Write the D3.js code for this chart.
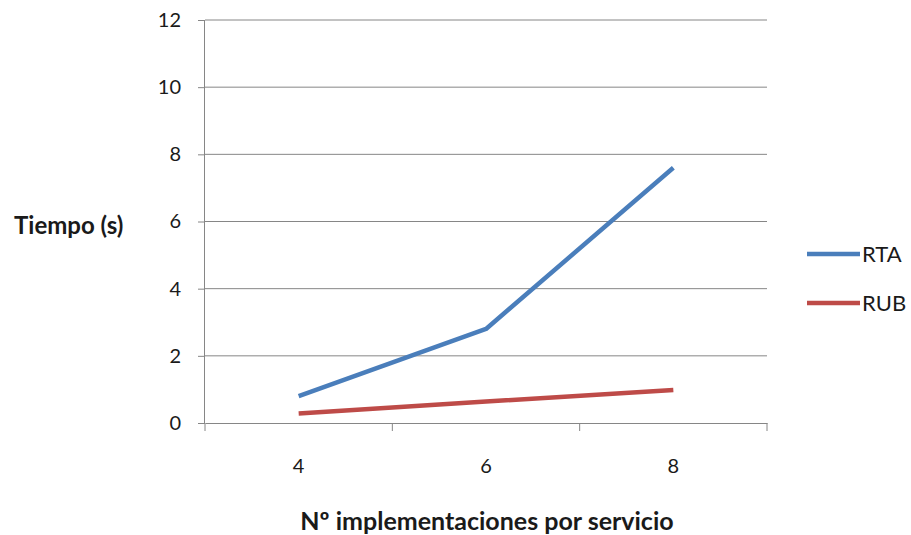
<!DOCTYPE html>
<html>
<head>
<meta charset="utf-8">
<script src="https://cdn.jsdelivr.net/npm/d3@7"></script>
<style>
  body { margin: 0; background: #fff; }
  text { font-family: Lato, "Open Sans", sans-serif; fill: #1a1a1a; }
</style>
</head>
<body>
<svg id="chart" width="911" height="535"></svg>
<script>
const categories = ['4', '6', '8'];
const seriesNames = ['RTA', 'RUB'];
const rtaValues = [0.8, 2.8, 7.6];
const rubValues = [0.28, 0.64, 0.98];
const yTicks = [0, 2, 4, 6, 8, 10, 12];

const colors = { RTA: '#4a7ebb', RUB: '#be4b48' };
const series = [
  { name: 'RTA', values: rtaValues },
  { name: 'RUB', values: rubValues }
];

const margin = { top: 20, right: 144, bottom: 112, left: 205 };
const width = 911 - margin.left - margin.right;
const height = 535 - margin.top - margin.bottom;

const svg = d3.select('#chart');
const chart = svg.append('g')
  .attr('transform', `translate(${margin.left}, ${margin.top})`);

// scales
const xScale = d3.scaleBand().domain(categories).range([0, width]);
const yScale = d3.scaleLinear().domain([0, 12]).range([height, 0]);

// gridlines
chart.append('g')
  .selectAll('line')
  .data(yTicks.filter(d => d > 0))
  .join('line')
  .attr('x1', 0).attr('x2', width)
  .attr('y1', d => yScale(d)).attr('y2', d => yScale(d))
  .attr('stroke', '#868686').attr('stroke-width', 1);

// y axis
const yAxis = chart.append('g')
  .call(d3.axisLeft(yScale).tickValues(yTicks).tickSize(7).tickPadding(17));
yAxis.select('.domain').attr('stroke', '#868686').attr('d', `M-0.5,${height}V0`);
yAxis.selectAll('.tick line').attr('stroke', '#868686');
yAxis.selectAll('.tick text').style('font-size', '20px').attr('fill', '#1a1a1a');

// x axis
const xAxis = chart.append('g')
  .attr('transform', `translate(0, ${height})`)
  .call(d3.axisBottom(xScale).tickSize(0).tickPadding(36));
xAxis.select('.domain').attr('stroke', '#868686');
xAxis.selectAll('.tick text').style('font-size', '20px').attr('fill', '#1a1a1a');
xAxis.selectAll('line.sep')
  .data(d3.range(categories.length + 1))
  .join('line')
  .attr('class', 'sep')
  .attr('x1', i => i * xScale.step()).attr('x2', i => i * xScale.step())
  .attr('y1', 0).attr('y2', 8)
  .attr('stroke', '#868686');

// lines
const line = d3.line()
  .x((d, i) => xScale(categories[i]) + xScale.bandwidth() / 2)
  .y(d => yScale(d));

chart.selectAll('path.series')
  .data(series)
  .join('path')
  .attr('class', 'series')
  .attr('d', d => line(d.values))
  .attr('fill', 'none')
  .attr('stroke', d => colors[d.name])
  .attr('stroke-width', 4.5)
  .attr('stroke-linejoin', 'round');

// legend
const legend = svg.append('g').attr('transform', 'translate(807, 254)');
const item = legend.selectAll('g')
  .data(seriesNames)
  .join('g')
  .attr('transform', (d, i) => `translate(0, ${i * 49})`);
item.append('line')
  .attr('x1', 0).attr('x2', 53)
  .attr('stroke', d => colors[d]).attr('stroke-width', 4.5);
item.append('text')
  .attr('x', 55).attr('dy', '0.36em')
  .style('font-size', '22px')
  .text(d => d);

// axis titles
svg.append('text')
  .attr('x', 14).attr('y', 225).attr('dy', '0.36em')
  .style('font-size', '24px').style('font-weight', 'bold')
  .text('Tiempo (s)');

svg.append('text')
  .attr('x', margin.left + width / 2 + 1).attr('y', 521).attr('dy', '0.36em')
  .attr('text-anchor', 'middle')
  .style('font-size', '25px').style('font-weight', 'bold')
  .text('Nº implementaciones por servicio');
</script>
</body>
</html>
